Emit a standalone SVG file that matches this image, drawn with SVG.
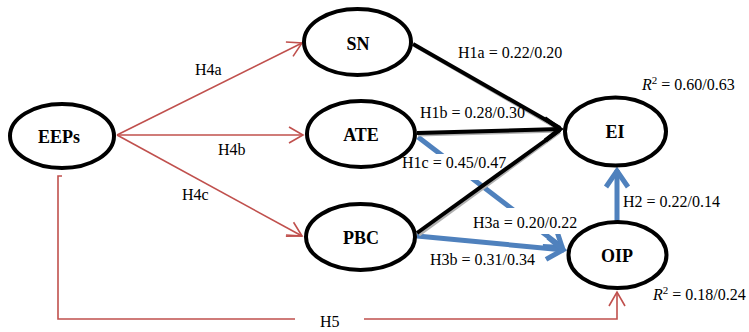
<svg xmlns="http://www.w3.org/2000/svg" width="749" height="332" viewBox="0 0 749 332">
<style>
.node ellipse{fill:#fff;stroke:#000;stroke-width:4}
.node text{font-family:'Liberation Serif','DejaVu Serif',serif;font-weight:bold;font-size:18px;text-anchor:middle;fill:#000}
.red{fill:none;stroke:#c0504d;stroke-width:1.6}
.blk{fill:none;stroke:#000;stroke-width:4}
.shd{fill:none;stroke:#b0b0b0;stroke-width:3}
.blu{fill:none;stroke:#4f81bd;stroke-width:5}
.lbl text{font-family:'Liberation Serif','DejaVu Serif',serif;font-size:16px;fill:#000}
.bg{fill:#fff}
</style>
<defs>
<marker id="mr" markerUnits="userSpaceOnUse" markerWidth="20" markerHeight="20" refX="0" refY="0" orient="auto" overflow="visible" viewBox="-20 -10 20 20">
<path d="M-14,-8 L0,0 L-14,8" fill="none" stroke="#c0504d" stroke-width="1.6"/>
</marker>
<marker id="mk" markerUnits="userSpaceOnUse" markerWidth="20" markerHeight="24" refX="0" refY="0" orient="auto" overflow="visible" viewBox="-20 -12 20 24">
<path d="M-15,-11 L0,0 L-15,11" fill="none" stroke="#000" stroke-width="4.5"/>
</marker>
<marker id="mb" markerUnits="userSpaceOnUse" markerWidth="24" markerHeight="26" refX="0" refY="0" orient="auto" overflow="visible" viewBox="-24 -13 24 26">
<path d="M-17,-11 L-1,0 L-17,11" fill="none" stroke="#4f81bd" stroke-width="5"/>
</marker>
</defs>
<g id="connectors">
<path class="blu" d="M418,137 L563,248" marker-end="url(#mb)"/>
<path class="blu" d="M417,236 L564,250" marker-end="url(#mb)"/>
<path class="blu" d="M617,221 L617,170" marker-end="url(#mb)"/>
<rect class="bg" x="400" y="154" width="110" height="26"/>
<rect class="bg" x="470" y="208" width="108" height="26"/>
<path class="shd" d="M415,46 L560,130"/>
<path class="shd" d="M418,135 L560,131"/>
<path class="shd" d="M419,235 L560,132"/>
<path class="blk" d="M413,44 L560,128"/>
<path class="blk" d="M417,133 L560,129" marker-end="url(#mk)"/>
<path class="blk" d="M417,233 L560,130"/>
<path class="red" d="M117,135 L302,43" marker-end="url(#mr)"/>
<path class="red" d="M117,135 L303,135" marker-end="url(#mr)"/>
<path class="red" d="M117,135 L302,236" marker-end="url(#mr)"/>
<path class="red" d="M286,235 L302,236"/>
<path class="red" d="M62,176 L58,176 L58,319 L295,319 M364,319 L617,319 L617,292" marker-end="url(#mr)"/>
</g>
<g id="EEPs" class="node"><ellipse cx="62" cy="136" rx="52" ry="32"/><text x="59" y="143" font-family="Liberation Serif, serif">EEPs</text></g>
<g id="SN" class="node"><ellipse cx="357.5" cy="42" rx="53.5" ry="33"/><text x="358" y="50">SN</text></g>
<g id="ATE" class="node"><ellipse cx="361" cy="134" rx="54" ry="33"/><text x="361" y="141">ATE</text></g>
<g id="PBC" class="node"><ellipse cx="360.5" cy="237" rx="54.5" ry="33"/><text x="361" y="244">PBC</text></g>
<g id="EI" class="node"><ellipse cx="615.5" cy="131.5" rx="50.5" ry="34"/><text x="615" y="138">EI</text></g>
<g id="OIP" class="node"><ellipse cx="617.5" cy="255" rx="49" ry="33"/><text x="617" y="262">OIP</text></g>
<g id="labels" class="lbl">
<text x="195" y="75">H4a</text>
<text x="218" y="155">H4b</text>
<text x="182" y="200">H4c</text>
<text x="320" y="327">H5</text>
<text x="458" y="58">H1a = 0.22/0.20</text>
<text x="420" y="118">H1b = 0.28/0.30</text>
<text x="402" y="168">H1c = 0.45/0.47</text>
<text x="623" y="207">H2 = 0.22/0.14</text>
<text x="473" y="228">H3a = 0.20/0.22</text>
<text x="430" y="265">H3b = 0.31/0.34</text>
<text x="642" y="90"><tspan font-style="italic">R</tspan><tspan font-size="11" dy="-6">2</tspan><tspan dy="6"> = 0.60/0.63</tspan></text>
<text x="653" y="300"><tspan font-style="italic">R</tspan><tspan font-size="11" dy="-6">2</tspan><tspan dy="6"> = 0.18/0.24</tspan></text>
</g>
</svg>
